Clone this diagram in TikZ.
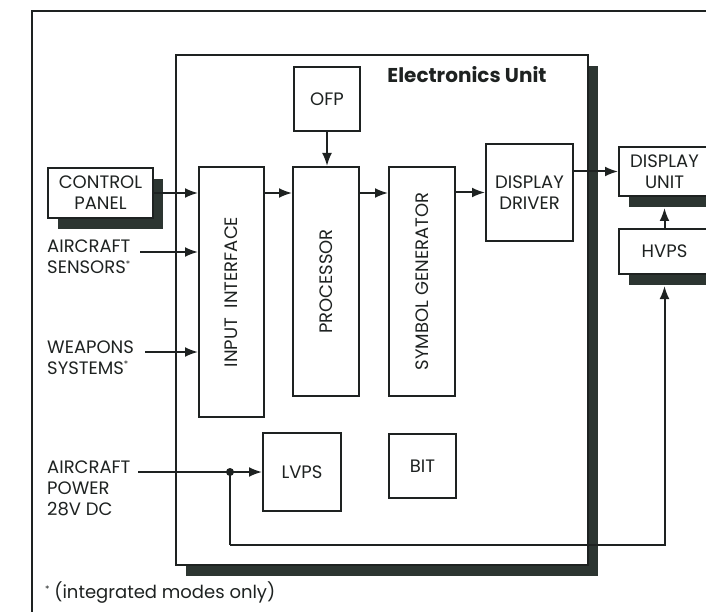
\documentclass[tikz,border=0pt]{standalone}
\usepackage{fontspec}
\setmainfont{Poppins}
\usetikzlibrary{arrows.meta,shadows}
\definecolor{hudink}{HTML}{1E2221}
\definecolor{hudshade}{HTML}{2C3531}
\newcommand\fnmark{\raisebox{.35em}{\fontsize{9}{9}\selectfont *}}
\tikzset{
  bx/.style={draw=hudink, line width=2pt, fill=white, align=center, inner sep=0pt, text=hudink, font=\fontsize{18}{21}\selectfont},
  shd/.style={drop shadow={shadow xshift=10pt, shadow yshift=-11pt, fill=hudshade, opacity=1}},
  vtxt/.style={rotate=90, inner sep=0pt, text=hudink, font=\fontsize{18}{21}\selectfont},
  lbl/.style={align=left, anchor=west, inner sep=0pt, text=hudink, font=\fontsize{18}{21}\selectfont},
  arr/.style={-{Latex[length=13pt,width=10pt]}, line width=2pt, color=hudink},
  wire/.style={line width=2pt, color=hudink},
}
\begin{document}
\begin{tikzpicture}[x=1pt, y=-1pt]
  \useasboundingbox (0,0) rectangle (706,612);
  \clip (0,0) rectangle (706,612);
  % outer frame, cut off at the right and bottom
  \draw[wire, line width=1.6pt] (32,620) -- (32,11) -- (720,11);
  % electronics unit
  \node[bx, shd, minimum width=412pt, minimum height=510pt] (eu) at (382,310) {};
  \node[inner sep=0pt, text=hudink, font=\fontsize{20}{22}\selectfont\bfseries] (eutitle) at (467,75) {Electronics Unit};
  \node[bx, minimum width=66pt, minimum height=64pt] (ofp) at (327,99) {OFP};
  \node[bx, minimum width=65pt, minimum height=250pt] (inif) at (231.5,292) {};
  \node[bx, minimum width=66pt, minimum height=229pt] (proc) at (326,281.5) {};
  \node[bx, minimum width=66pt, minimum height=229pt] (symg) at (422,281.5) {};
  \node[vtxt] (inifl) at (inif) {INPUT\ \ INTERFACE};
  \node[vtxt] (procl) at (proc) {PROCESSOR};
  \node[vtxt] (symgl) at (symg) {SYMBOL GENERATOR};
  \node[bx, minimum width=87pt, minimum height=97pt] (ddrv) at (529.5,192.5) {DISPLAY\\DRIVER};
  \node[bx, minimum width=78pt, minimum height=78pt] (lvps) at (302,472) {LVPS};
  \node[bx, minimum width=67pt, minimum height=64pt] (bit) at (422.5,466) {BIT};
  % outside units
  \node[bx, shd, minimum width=105pt, minimum height=50pt] (cpnl) at (100.5,193) {CONTROL\\PANEL};
  \node[bx, shd, minimum width=91pt, minimum height=49pt] (dunit) at (664.5,171.5) {DISPLAY\\UNIT};
  \node[bx, shd, minimum width=91pt, minimum height=45pt] (hvps) at (664.5,251.5) {HVPS};
  % inputs
  \node[lbl] (sens) at (47,257) {AIRCRAFT\\SENSORS\fnmark};
  \node[lbl] (weap) at (47,357.5) {WEAPONS\\SYSTEMS\fnmark};
  \node[lbl] (pwr) at (47,488) {AIRCRAFT\\POWER\\28V DC};
  \node[lbl] (note) at (45,593) {\fnmark\ (integrated modes only)};
  \coordinate (sensin) at (140,252);
  \coordinate (weapin) at (145,352);
  \coordinate (pwrin) at (138,472);
  \coordinate (jn) at (230,472);
  \coordinate (pwrlow) at (230,545);
  % signal flow
  \foreach \s in {cpnl,sensin,weapin} \draw[arr] (\s) -- (inif.west |- \s);
  \draw[arr] (inif.east |- cpnl) -- (proc.west |- cpnl);
  \draw[arr] (proc.east |- cpnl) -- (symg.west |- cpnl);
  \draw[arr] (symg.east |- ddrv) -- (ddrv.west);
  \draw[arr] (ofp) -- (proc.north -| ofp);
  \draw[arr] (ddrv.east |- dunit) -- (dunit.west);
  \draw[arr] (hvps.north) -- ([yshift=-11pt]dunit.south);
  % power
  \draw[arr] (pwrin) -- (lvps.west);
  \draw[wire] (jn) -- (pwrlow);
  \draw[arr] (pwrlow) -| ([yshift=-11pt]hvps.south);
  \fill[hudink] (jn) circle (4pt);
\end{tikzpicture}
\end{document}
